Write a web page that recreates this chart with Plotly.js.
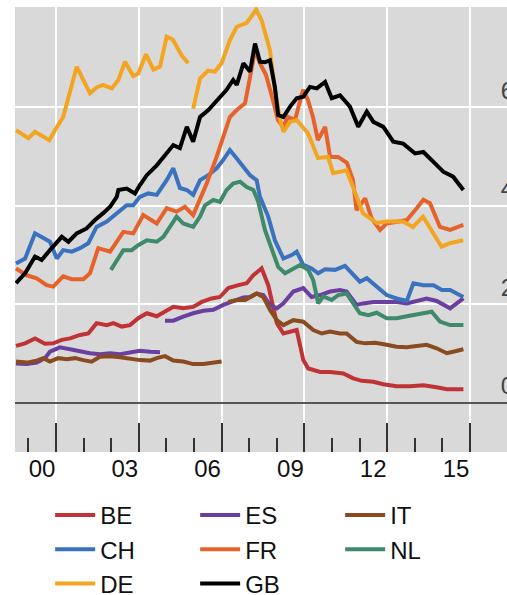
<!DOCTYPE html>
<html><head><meta charset="utf-8">
<script src="https://cdn.plot.ly/plotly-3.0.1.min.js"></script>
<style>html,body{margin:0;padding:0;overflow:hidden;background:#fff;width:507px;height:595px}#chart{width:525px;height:640px}</style>
</head><body><div id="chart"></div>
<script>
// ---- data (decimal years, values) ----
const countries = ['BE','ES','IT','CH','FR','NL','DE','GB'];
const colors = {BE:'#bf3336', ES:'#6b3fa0', IT:'#8a4b21', CH:'#3a72c0', FR:'#e5632a', NL:'#3e8a6b', DE:'#f3a521', GB:'#000000'};

const BE_x = [1999.55,1999.88,2000.24,2000.60,2000.90,2001.21,2001.51,2001.87,2002.17,2002.47,2002.84,2003.08,2003.38,2003.68,2003.98,2004.29,2004.65,2004.95,2005.25,2005.61,2005.97,2006.28,2006.64,2006.94,2007.24,2007.61,2007.91,2008.15,2008.45,2008.69,2008.87,2009.00,2009.24,2009.72,2009.96,2010.14,2010.57,2010.93,2011.41,2011.77,2012.08,2012.50,2012.86,2013.34,2013.83,2014.31,2014.79,2015.16,2015.76];
const BE_y = [1.16,1.21,1.31,1.20,1.21,1.28,1.31,1.38,1.41,1.62,1.58,1.62,1.55,1.58,1.72,1.82,1.76,1.85,1.95,1.92,1.95,2.05,2.12,2.15,2.33,2.39,2.43,2.59,2.73,2.39,1.95,1.62,1.41,1.48,0.87,0.70,0.63,0.63,0.60,0.50,0.45,0.43,0.38,0.34,0.34,0.36,0.32,0.28,0.28];

const ES_x = [1999.55,1999.94,2000.30,2000.60,2000.78,2001.14,2001.51,2001.87,2002.23,2002.59,2002.96,2003.32,2003.68,2004.04,2004.41,2004.77,null,2004.95,2005.25,2005.61,2005.97,2006.34,2006.70,2007.06,2007.42,2007.79,2008.03,2008.27,2008.51,2008.75,2009.00,2009.24,2009.60,2009.96,2010.26,2010.57,2010.93,2011.29,2011.53,2011.89,2012.13,2012.50,2012.98,2013.34,2013.71,2014.07,2014.43,2014.79,2015.28,2015.52,2015.76];
const ES_y = [0.80,0.79,0.82,0.91,1.04,1.13,1.09,1.04,1.01,0.99,1.01,0.99,1.02,1.06,1.04,1.03,null,1.67,1.67,1.75,1.82,1.87,1.89,1.99,2.07,2.14,2.15,2.22,2.19,1.99,1.92,2.02,2.26,2.33,2.15,2.19,2.26,2.29,2.26,1.99,2.02,2.05,2.05,2.05,2.02,2.07,2.12,2.07,1.92,2.02,2.12];

const IT_x = [1999.55,1999.94,2000.30,2000.54,2000.78,2001.08,2001.39,2001.69,2001.99,2002.29,2002.59,2002.96,2003.32,2003.68,2004.04,2004.41,2004.65,2004.95,2005.25,2005.61,2005.97,2006.34,2006.70,2007.00,null,2007.24,2007.55,2007.85,2008.03,2008.27,2008.51,2008.75,2009.00,2009.24,2009.60,2009.96,2010.32,2010.63,2010.93,2011.29,2011.53,2011.89,2012.20,2012.56,2012.98,2013.34,2013.71,2014.07,2014.43,2014.79,2015.16,2015.39,2015.76];
const IT_y = [0.84,0.82,0.86,0.91,0.84,0.91,0.89,0.91,0.87,0.84,0.94,0.95,0.93,0.89,0.87,0.86,0.91,0.95,0.86,0.84,0.79,0.79,0.82,0.84,null,2.05,2.09,2.09,2.15,2.22,2.15,1.89,1.68,1.58,1.68,1.65,1.48,1.41,1.45,1.41,1.41,1.24,1.21,1.22,1.18,1.14,1.13,1.16,1.18,1.11,1.01,1.04,1.09];

const CH_x = [1999.55,1999.88,2000.24,2000.54,2000.78,2001.03,2001.26,2001.57,2001.87,2002.17,2002.47,2002.84,2003.14,2003.56,2003.80,2004.04,2004.34,2004.65,2005.01,2005.25,2005.49,2005.74,2005.97,2006.22,2006.52,2006.82,2007.06,2007.30,2007.55,2007.79,2008.03,2008.27,2008.39,2008.69,2008.93,2009.24,2009.54,2009.72,2009.96,2010.26,2010.50,2010.75,2011.11,2011.47,2011.77,2012.01,2012.26,2012.62,2012.98,2013.34,2013.71,2013.95,2014.31,2014.68,2014.98,2015.28,2015.76];
const CH_y = [2.83,2.93,3.44,3.34,3.27,2.93,3.10,3.07,3.14,3.24,3.57,3.68,3.81,4.01,4.01,4.18,4.25,4.22,4.52,4.76,4.36,4.32,4.22,4.52,4.62,4.76,4.93,5.13,4.96,4.79,4.62,4.52,4.18,3.78,3.30,2.93,3.00,3.07,2.80,2.73,2.63,2.71,2.70,2.78,2.59,2.46,2.53,2.36,2.19,2.12,2.07,2.43,2.39,2.39,2.29,2.29,2.15];

const FR_x = [1999.55,1999.94,2000.30,2000.66,2000.90,2001.26,2001.57,2001.99,2002.23,2002.53,2002.96,2003.44,2003.80,2004.16,2004.65,2005.01,2005.37,2005.67,2005.97,2006.22,2006.46,2006.82,2007.06,2007.30,2007.55,2007.85,2008.03,2008.21,2008.39,2008.61,2008.86,2009.04,2009.22,2009.41,2009.66,2009.95,2010.13,2010.31,2010.49,2010.75,2010.93,2011.22,2011.54,2011.76,2011.89,2012.20,2012.44,2012.74,2012.98,2013.34,2013.71,2014.01,2014.31,2014.55,2014.91,2015.28,2015.76];
const FR_y = [2.73,2.59,2.53,2.39,2.36,2.57,2.51,2.51,2.63,3.14,3.07,3.47,3.44,3.81,3.64,3.95,3.88,3.98,3.81,4.12,4.45,4.99,5.40,5.80,5.94,6.08,6.61,7.16,6.89,6.65,6.14,5.74,5.60,5.80,5.74,6.35,6.14,5.80,5.33,5.60,4.99,4.99,4.87,4.52,3.91,4.15,3.74,3.51,3.64,3.68,3.71,3.91,4.12,4.05,3.57,3.51,3.61];

const NL_x = [2002.99,2003.20,2003.44,2003.74,2003.98,2004.29,2004.65,2004.89,2005.13,2005.37,2005.61,2005.97,2006.22,2006.40,2006.70,2006.94,2007.18,2007.42,2007.67,2007.91,2008.15,2008.33,2008.57,2008.82,2009.05,2009.30,2009.60,2009.84,2010.14,2010.32,2010.50,2010.68,2010.99,2011.23,2011.53,2011.77,2012.01,2012.32,2012.62,2012.98,2013.34,2013.71,2014.31,2014.61,2014.91,2015.28,2015.76];
const NL_y = [2.70,2.90,3.10,3.10,3.20,3.30,3.27,3.37,3.57,3.78,3.64,3.57,3.78,4.01,4.12,4.08,4.32,4.45,4.49,4.38,4.32,4.08,3.51,3.10,2.76,2.63,2.73,2.80,2.70,2.49,2.02,2.16,2.09,2.19,2.22,2.02,1.82,1.78,1.83,1.72,1.72,1.76,1.82,1.85,1.65,1.58,1.58];

const DE_x = [1999.55,2000.00,2000.24,2000.76,2000.96,2001.26,2001.75,2002.23,2002.47,2002.71,2003.02,2003.26,2003.50,2003.80,2003.98,2004.26,2004.53,2004.77,2005.01,2005.23,2005.55,2005.79,null,2005.97,2006.22,2006.51,2006.76,2007.00,2007.30,2007.55,2007.91,2008.03,2008.25,2008.45,2008.75,2008.93,2009.12,2009.24,2009.48,2009.72,2010.13,2010.49,2010.86,2011.04,2011.53,2011.76,2012.12,2012.62,2012.98,2013.57,2013.93,2014.30,2014.66,2014.97,2015.28,2015.75];
const DE_y = [5.53,5.37,5.50,5.33,5.53,5.80,6.82,6.28,6.40,6.45,6.38,6.55,6.92,6.63,6.68,7.07,6.76,6.82,7.43,7.37,7.05,6.89,null,5.97,6.58,6.74,6.72,6.89,7.36,7.63,7.71,7.80,7.98,7.76,7.16,6.35,5.74,5.50,5.70,5.74,5.47,4.97,4.99,4.66,4.72,4.38,3.85,3.65,3.68,3.68,3.57,3.78,3.45,3.17,3.24,3.30];

const GB_x = [1999.55,1999.88,2000.24,2000.48,2000.78,2001.21,2001.45,2001.75,2002.11,2002.41,2002.71,2002.96,2003.20,2003.26,2003.56,2003.86,2004.04,2004.29,2004.65,2004.95,2005.25,2005.49,2005.74,2005.97,2006.22,2006.52,2006.82,2007.18,2007.42,2007.55,2007.79,2008.03,2008.21,2008.39,2008.57,2008.75,2008.93,2009.05,2009.24,2009.48,2009.72,2009.96,2010.20,2010.45,2010.75,2010.99,2011.29,2011.65,2011.95,2012.26,2012.50,2012.86,2013.22,2013.58,2014.01,2014.31,2014.73,2015.03,2015.39,2015.76];
const GB_y = [2.43,2.63,2.97,2.90,3.10,3.37,3.27,3.44,3.54,3.71,3.85,3.98,4.18,4.32,4.35,4.25,4.42,4.62,4.82,5.03,5.23,5.17,5.60,5.30,5.80,5.94,6.14,6.35,6.55,6.45,6.89,6.72,7.29,6.92,6.91,6.95,6.41,5.84,5.80,6.01,6.18,6.21,6.41,6.38,6.51,6.18,6.24,6.01,5.60,5.91,5.70,5.60,5.30,5.26,5.06,5.09,4.86,4.69,4.59,4.32];

const seriesX = {BE:BE_x, ES:ES_x, IT:IT_x, CH:CH_x, FR:FR_x, NL:NL_x, DE:DE_x, GB:GB_x};
const seriesY = {BE:BE_y, ES:ES_y, IT:IT_y, CH:CH_y, FR:FR_y, NL:NL_y, DE:DE_y, GB:GB_y};

const majorTicks = [2001, 2004, 2007, 2010, 2013, 2016];
const tickLabels = ['00', '03', '06', '09', '12', '15'];
const minorTicks = [2000, 2002, 2003, 2005, 2006, 2008, 2009, 2011, 2012, 2014, 2015];
const yTicks = [0, 2, 4, 6];
const yTickLabels = ['0', '2', '4', '6'];

// ---- plot ----
const traces = countries.map(c => ({
  type: 'scatter', mode: 'lines', name: c,
  x: seriesX[c], y: seriesY[c],
  line: {color: colors[c], width: 4},
  connectgaps: false, hoverinfo: 'skip'
}));

const W = 525, H = 640;
const pxPerYear = 27.6;
const plotLeft = 15, plotRight = 517, plotTop = 7, plotBottom = 452;
const x0 = 2001 - (56 - plotLeft) / pxPerYear;
const x1 = x0 + (plotRight - plotLeft) / pxPerYear;

const layout = {
  width: W, height: H,
  margin: {l: plotLeft, r: W - plotRight, t: plotTop, b: H - plotBottom, pad: 0},
  paper_bgcolor: '#ffffff', plot_bgcolor: '#d9d9d9',
  font: {family: '"Liberation Sans", Arial, sans-serif', size: 24, color: '#111111'},
  showlegend: true,
  legend: {orientation: 'h', x: 0.07, xanchor: 'left', y: -0.092, yanchor: 'top',
    itemwidth: 40, entrywidth: 90, entrywidthmode: 'pixels', font: {size: 24, color: '#111111'},
    bgcolor: 'rgba(0,0,0,0)', itemclick: false, itemdoubleclick: false},
  xaxis: {range: [x0, x1], tickmode: 'array', tickvals: majorTicks, ticktext: tickLabels,
    ticks: 'inside', ticklen: 29, tickwidth: 2, tickcolor: '#333333', ticklabelshift: -14,
    showgrid: true, gridcolor: '#ffffff', gridwidth: 2, zeroline: false, showline: false, automargin: false,
    minor: {tickmode: 'array', tickvals: minorTicks, ticks: 'inside', ticklen: 14, tickwidth: 2, tickcolor: '#333333', showgrid: false},
    fixedrange: true},
  yaxis: {range: [-0.993, 8.03], side: 'right', tickmode: 'array', tickvals: yTicks, ticktext: yTickLabels,
    ticks: '', ticklabelposition: 'inside', ticklabelshift: -17, automargin: false,
    showgrid: true, gridcolor: '#ffffff', gridwidth: 2,
    zeroline: true, zerolinecolor: '#555555', zerolinewidth: 2, showline: false, fixedrange: true}
};

Plotly.newPlot('chart', traces, layout, {staticPlot: true, displayModeBar: false});
</script></body></html>
